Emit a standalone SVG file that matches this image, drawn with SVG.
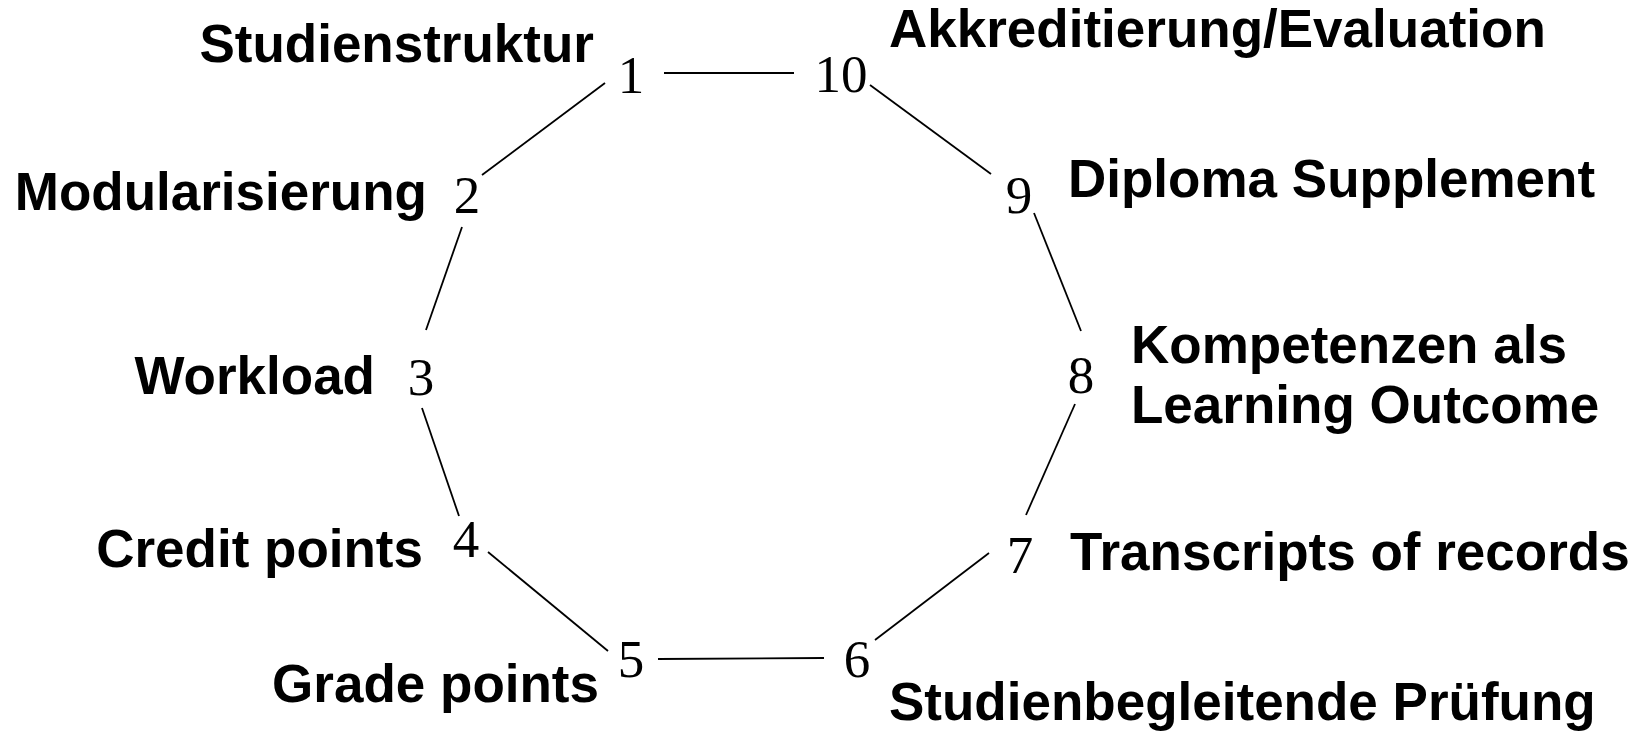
<svg xmlns="http://www.w3.org/2000/svg" width="1649" height="732" viewBox="0 0 1649 732">
<style>
.lbl{font-family:"Liberation Sans",Arial,sans-serif;font-weight:bold;font-size:53px;fill:#000}
.num{font-family:"Liberation Serif","Times New Roman",serif;font-size:53px;fill:#000;text-anchor:middle}
.l{text-anchor:end}
#connectors line{stroke:#000;stroke-width:1.8}
</style>
<rect width="1649" height="732" fill="#fff"/>
<g id="connectors">
<line x1="664" y1="73" x2="794" y2="73"/>
<line x1="605" y1="83" x2="482" y2="175"/>
<line x1="462" y1="227" x2="426" y2="330"/>
<line x1="422" y1="408" x2="459" y2="516"/>
<line x1="488" y1="552" x2="608" y2="651"/>
<line x1="658" y1="659" x2="824" y2="658"/>
<line x1="875" y1="640" x2="989" y2="553"/>
<line x1="1026" y1="515" x2="1075" y2="404"/>
<line x1="1081" y1="331" x2="1034" y2="213"/>
<line x1="991" y1="174" x2="870" y2="85"/>
</g>
<g id="n1"><text class="num" x="631" y="93">1</text><text class="lbl l" x="594" y="62">Studienstruktur</text></g>
<g id="n2"><text class="num" x="467" y="213">2</text><text class="lbl l" x="427" y="210">Modularisierung</text></g>
<g id="n3"><text class="num" x="421" y="395">3</text><text class="lbl l" x="375" y="394">Workload</text></g>
<g id="n4"><text class="num" x="466" y="557">4</text><text class="lbl l" x="423" y="567">Credit points</text></g>
<g id="n5"><text class="num" x="631" y="677">5</text><text class="lbl l" x="599" y="702">Grade points</text></g>
<g id="n6"><text class="num" x="857" y="677">6</text><text class="lbl" x="889" y="720">Studienbegleitende Prüfung</text></g>
<g id="n7"><text class="num" x="1020" y="573">7</text><text class="lbl" x="1070" y="570">Transcripts of records</text></g>
<g id="n8"><text class="num" x="1081" y="393">8</text><text class="lbl" x="1131" y="363">Kompetenzen als</text><text class="lbl" x="1131" y="423">Learning Outcome</text></g>
<g id="n9"><text class="num" x="1019" y="213">9</text><text class="lbl" x="1068" y="197">Diploma Supplement</text></g>
<g id="n10"><text class="num" x="841" y="92">10</text><text class="lbl" x="889" y="47">Akkreditierung/Evaluation</text></g>
</svg>
